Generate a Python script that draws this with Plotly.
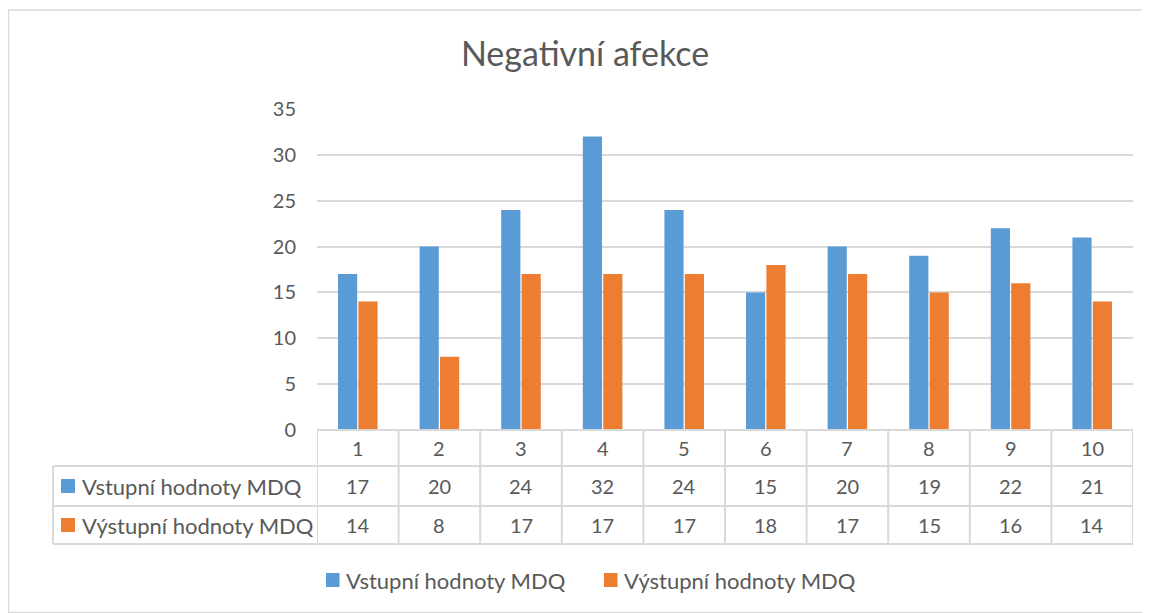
import plotly.graph_objects as go

categories = ["1", "2", "3", "4", "5", "6", "7", "8", "9", "10"]
vstupni = [17, 20, 24, 32, 24, 15, 20, 19, 22, 21]
vystupni = [14, 8, 17, 17, 17, 18, 17, 15, 16, 14]
series_names = ["Vstupní hodnoty MDQ", "Výstupní hodnoty MDQ"]
colors = ["#5B9BD5", "#ED7D31"]

# page body has an 8px margin, so the figure sits at (8, 8)
OFF = 8
W, H = 1150 - OFF, 613 - OFF
FONT = "Lato, Carlito, 'Open Sans', sans-serif"
TXT = "#595959"
GRID = "#D9D9D9"
NUM_SIZE = 20
LBL_SIZE = 22


def px(x):
    return (x - OFF) / W


def py(y):
    return 1 - (y - OFF) / H


fig = go.Figure()
for name, vals, col in zip(series_names, [vstupni, vystupni], colors):
    fig.add_trace(go.Bar(x=categories, y=vals, name=name, marker_color=col,
                         marker_line_width=0, showlegend=False))

# plot area in page pixels
left, right, top, bottom = 317, 1133, 109, 430
row_y = [430, 466, 506, 544]
label_left = 53

shapes = []
# outer chart border
shapes.append(dict(type="rect", xref="paper", yref="paper",
                   x0=px(8.5), x1=px(1147), y0=py(612.5), y1=py(10),
                   line=dict(color=GRID, width=1.5)))
# data table horizontal lines
shapes.append(dict(type="line", xref="paper", yref="paper",
                   x0=px(left), x1=px(right), y0=py(row_y[0]), y1=py(row_y[0]),
                   line=dict(color=GRID, width=2)))
for yy in row_y[1:]:
    shapes.append(dict(type="line", xref="paper", yref="paper",
                       x0=px(label_left), x1=px(right), y0=py(yy), y1=py(yy),
                       line=dict(color=GRID, width=2)))
# vertical lines
for i in range(len(categories) + 1):
    shapes.append(dict(type="line", xref="x", yref="paper",
                       x0=i - 0.5, x1=i - 0.5, y0=py(row_y[0]), y1=py(row_y[3]),
                       line=dict(color=GRID, width=2)))
shapes.append(dict(type="line", xref="paper", yref="paper",
                   x0=px(label_left), x1=px(label_left), y0=py(row_y[1]), y1=py(row_y[3]),
                   line=dict(color=GRID, width=2)))

annotations = []
for i, c in enumerate(categories):
    annotations.append(dict(x=i, y=py((row_y[0] + row_y[1]) / 2), xref="x", yref="paper",
                            xanchor="center", yanchor="middle",
                            text=c, showarrow=False, font=dict(size=NUM_SIZE, color=TXT)))
for r, vals in enumerate([vstupni, vystupni]):
    yc_px = (row_y[r + 1] + row_y[r + 2]) / 2
    yc = py(yc_px)
    shapes.append(dict(type="rect", xref="paper", yref="paper",
                       x0=px(61), x1=px(75), y0=py(yc_px + 7), y1=py(yc_px - 7),
                       fillcolor=colors[r], line=dict(width=0)))
    annotations.append(dict(x=px(80), y=yc, xref="paper", yref="paper",
                            xanchor="left", yanchor="middle",
                            text=series_names[r], showarrow=False,
                            font=dict(size=LBL_SIZE, color=TXT)))
    for i, v in enumerate(vals):
        annotations.append(dict(x=i, y=yc, xref="x", yref="paper", text=str(v),
                                xanchor="center", yanchor="middle",
                                showarrow=False, font=dict(size=NUM_SIZE, color=TXT)))

# bottom legend
legend_y = 580
for r, (x0, tx) in enumerate([(326, 344), (604, 622)]):
    shapes.append(dict(type="rect", xref="paper", yref="paper",
                       x0=px(x0), x1=px(x0 + 13.5), y0=py(legend_y + 7), y1=py(legend_y - 7),
                       fillcolor=colors[r], line=dict(width=0)))
    annotations.append(dict(x=px(tx), y=py(legend_y), xref="paper", yref="paper",
                            xanchor="left", yanchor="middle",
                            text=series_names[r], showarrow=False,
                            font=dict(size=LBL_SIZE, color=TXT)))

fig.update_layout(
    width=W, height=H,
    margin=dict(l=0, r=0, t=0, b=0, autoexpand=False),
    paper_bgcolor="white", plot_bgcolor="white",
    font=dict(family=FONT, color=TXT),
    title=dict(text="Negativní afekce", x=px(585), xanchor="center",
               y=py(54), yanchor="middle",
               font=dict(size=34, color=TXT, family=FONT)),
    barmode="group", bargap=0.5, bargroupgap=0.06,
    showlegend=False,
    xaxis=dict(domain=[px(left), px(right)], range=[-0.5, 9.5], showticklabels=False,
               showgrid=False, zeroline=False, showline=False, fixedrange=True),
    yaxis=dict(domain=[py(bottom), py(top)], range=[0, 35], dtick=5, showgrid=True,
               gridcolor=GRID, gridwidth=1.5, zeroline=False, showline=False,
               ticks="", ticklabelstandoff=20, tickfont=dict(size=NUM_SIZE, color=TXT)),
    shapes=shapes,
    annotations=annotations,
)

fig.write_html("out.html")
